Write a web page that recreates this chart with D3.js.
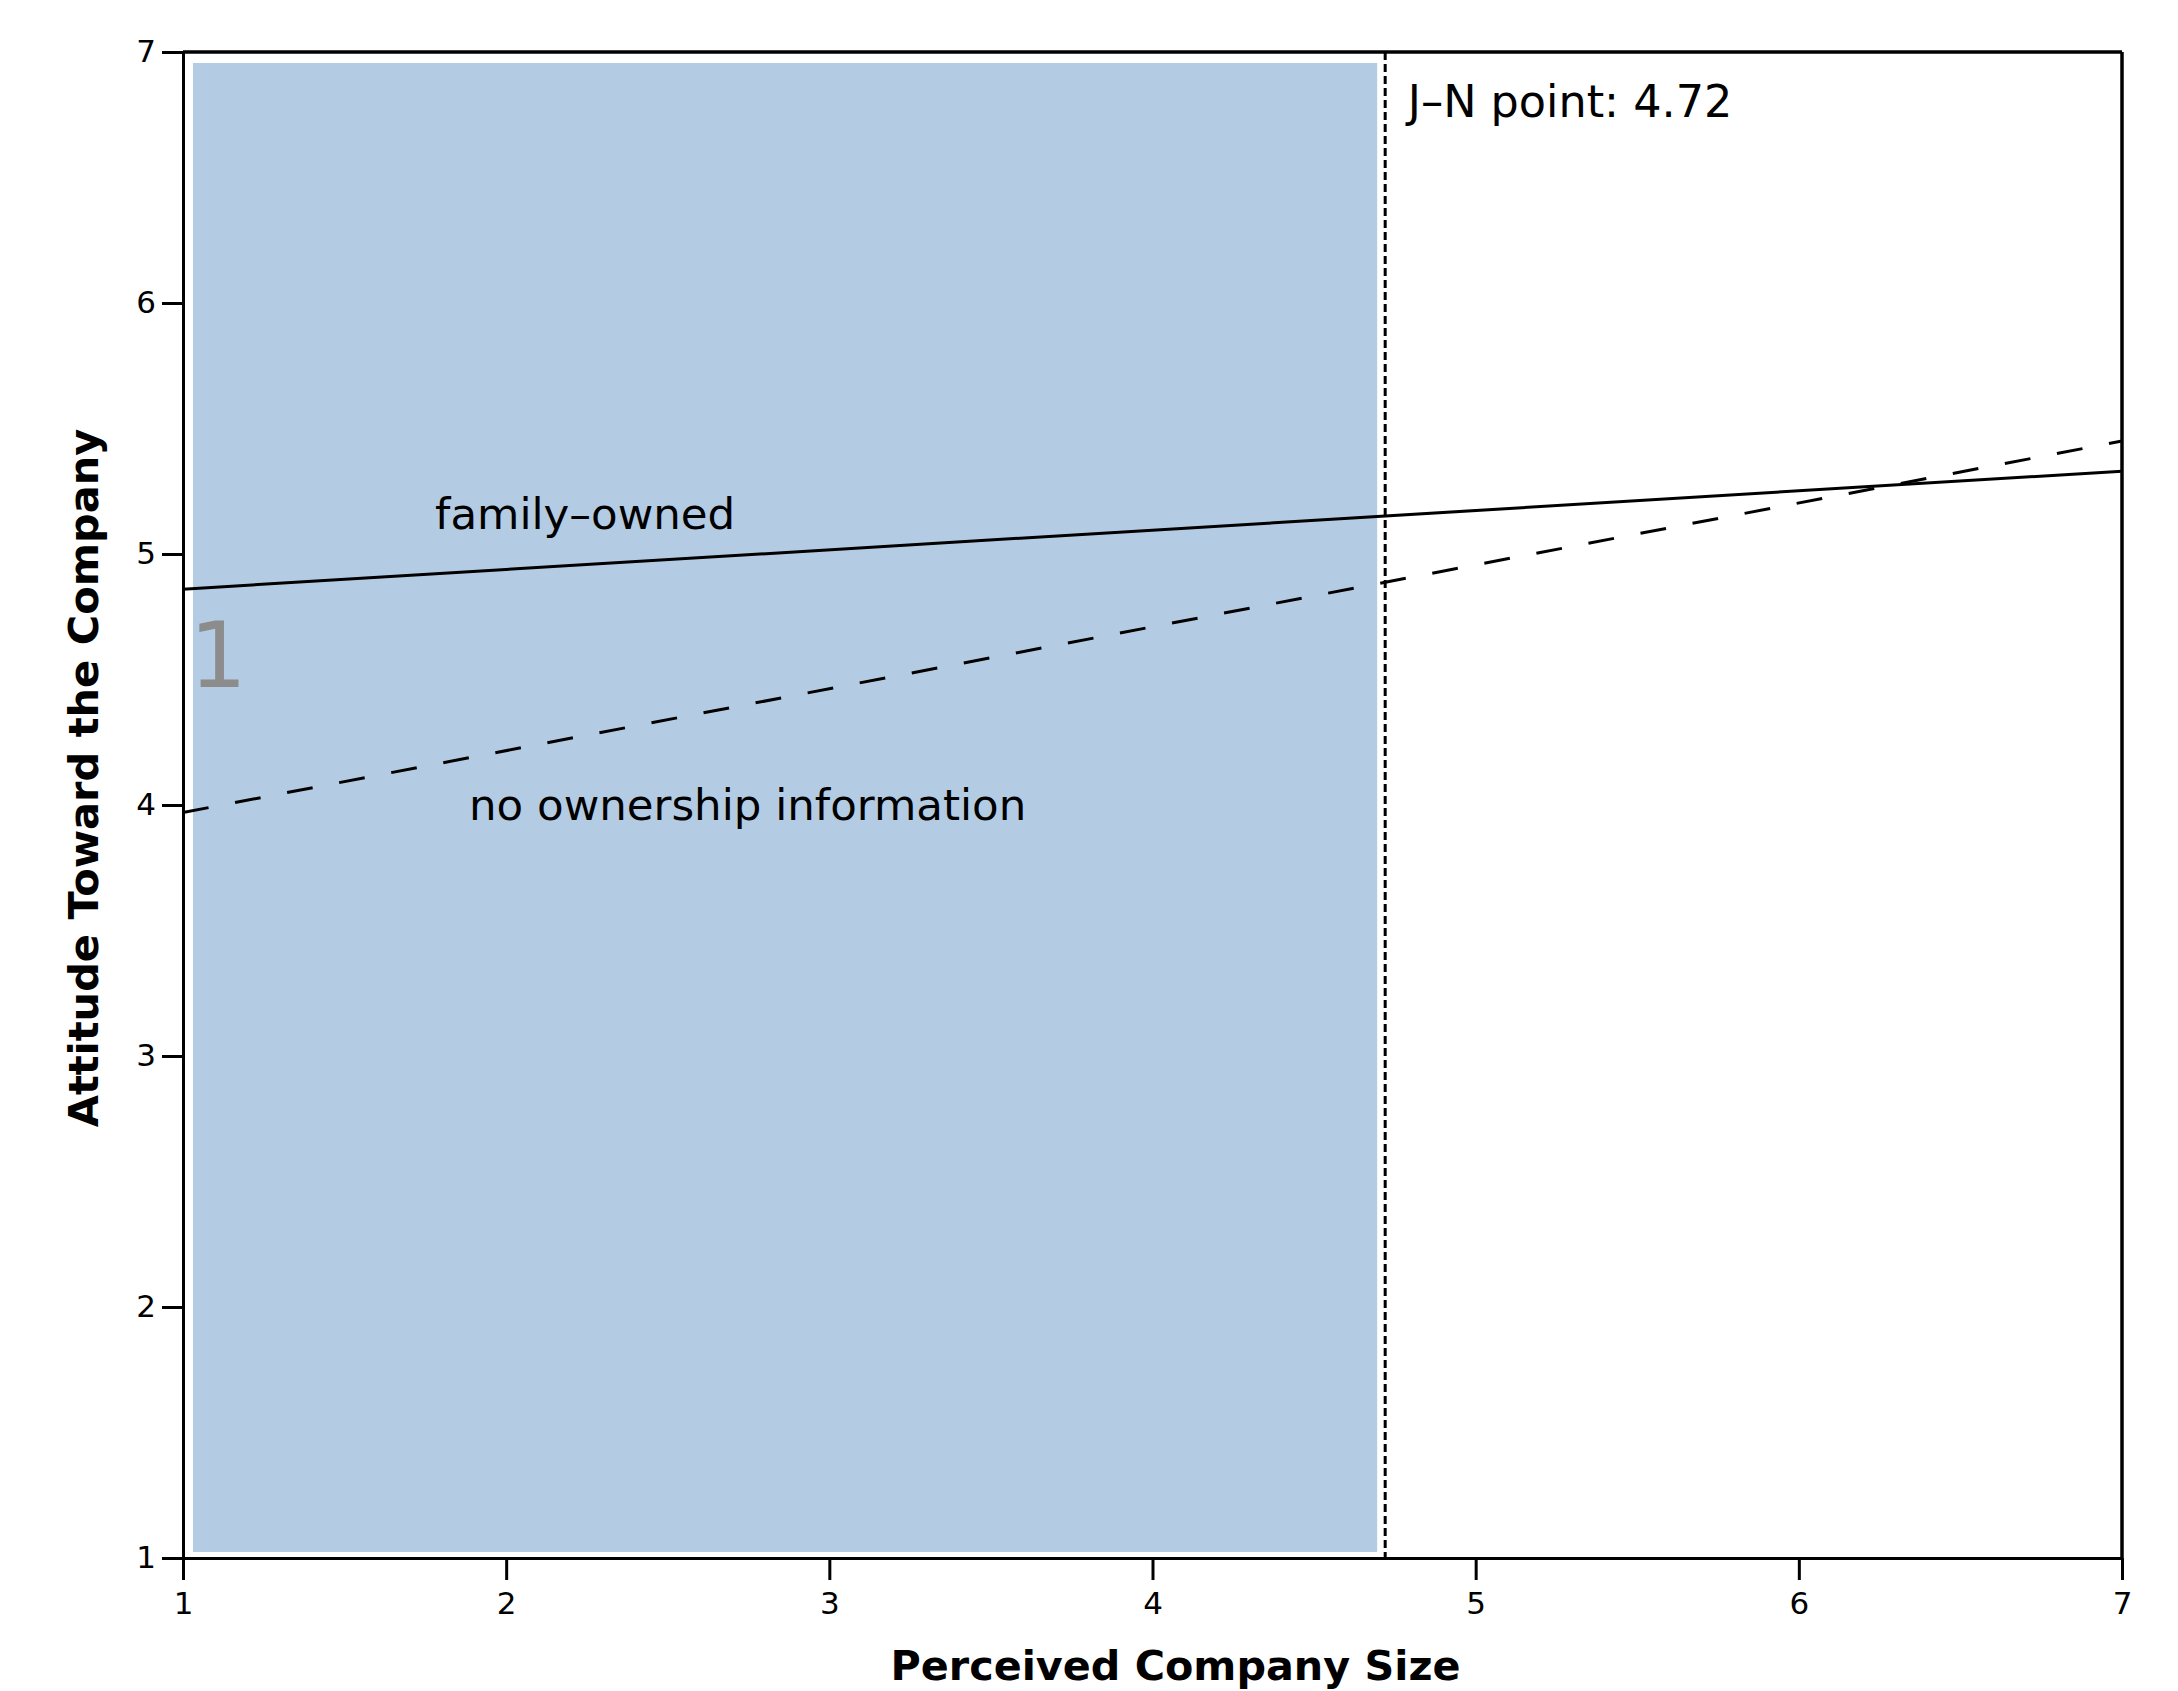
<!DOCTYPE html>
<html>
<head>
<meta charset="utf-8">
<script src="https://cdn.jsdelivr.net/npm/d3@7"></script>
<style>
  body { margin: 0; background: #fff; }
  svg { display: block; font-family: "DejaVu Sans", sans-serif; }
  .axis path, .axis line { stroke: #000; stroke-width: 3; }
  .axis text { font-size: 31px; fill: #000; font-family: "DejaVu Sans", sans-serif; }
</style>
</head>
<body>
<div class="chart"></div>
<script>
// chart values
var sizeRange = [1, 7];              // x at the ends of both lines
var familyOwned = [4.86, 5.33];      // solid line
var noOwnership = [3.97, 5.45];      // dashed line
var xTicks = [1, 2, 3, 4, 5, 6, 7];
var yTicks = [1, 2, 3, 4, 5, 6, 7];
var jnPoint = 4.72;
var regionLabel = "1";

var svgWidth = 2178;
var svgHeight = 1691;

var margin = { top: 52, right: 56, bottom: 133, left: 183 };
var width = svgWidth - margin.left - margin.right;
var height = svgHeight - margin.top - margin.bottom;

var svg = d3.select(".chart")
  .append("svg")
  .attr("width", svgWidth)
  .attr("height", svgHeight);

var chartGroup = svg.append("g")
  .attr("transform", `translate(${margin.left}, ${margin.top})`);

var xLinearScale = d3.scaleLinear().domain([1, 7]).range([0, width]);
var yLinearScale = d3.scaleLinear().domain([1, 7]).range([height, 0]);

// shaded region of significance (left of the J-N point)
chartGroup.append("rect")
  .attr("x", xLinearScale(1) + 10)
  .attr("y", yLinearScale(7) + 11)
  .attr("width", xLinearScale(jnPoint) - xLinearScale(1) - 18)
  .attr("height", yLinearScale(1) - yLinearScale(7) - 17)
  .attr("fill", "#b3cce4");

// frame: top and right
chartGroup.append("line")
  .attr("x1", 0).attr("x2", width).attr("y1", 0).attr("y2", 0)
  .attr("stroke", "#000").attr("stroke-width", 3.5);
chartGroup.append("line")
  .attr("x1", width).attr("x2", width).attr("y1", 0).attr("y2", height)
  .attr("stroke", "#000").attr("stroke-width", 3.5);

// axes
var bottomAxis = d3.axisBottom(xLinearScale)
  .tickValues(xTicks).tickFormat(d3.format("d"))
  .tickSize(22).tickSizeOuter(0).tickPadding(12);
var leftAxis = d3.axisLeft(yLinearScale)
  .tickValues(yTicks).tickFormat(d3.format("d"))
  .tickSize(21).tickSizeOuter(0).tickPadding(6);

chartGroup.append("g")
  .attr("class", "axis")
  .attr("transform", `translate(0, ${height})`)
  .call(bottomAxis);

chartGroup.append("g")
  .attr("class", "axis")
  .call(leftAxis);

chartGroup.selectAll(".axis path").attr("stroke-width", 3.5);

// J-N vertical line
chartGroup.append("line")
  .attr("x1", xLinearScale(jnPoint)).attr("x2", xLinearScale(jnPoint))
  .attr("y1", yLinearScale(7)).attr("y2", yLinearScale(1))
  .attr("stroke", "#000")
  .attr("stroke-width", 3)
  .attr("stroke-dasharray", "8,4");

// regression lines
var line = d3.line()
  .x(d => xLinearScale(d[0]))
  .y(d => yLinearScale(d[1]));

chartGroup.append("path")
  .datum(d3.zip(sizeRange, familyOwned))
  .attr("d", line)
  .attr("fill", "none")
  .attr("stroke", "#000")
  .attr("stroke-width", 3);

chartGroup.append("path")
  .datum(d3.zip(sizeRange, noOwnership))
  .attr("d", line)
  .attr("fill", "none")
  .attr("stroke", "#000")
  .attr("stroke-width", 3)
  .attr("stroke-dasharray", "26,27");

// annotations
chartGroup.append("text")
  .attr("x", xLinearScale(4.79))
  .attr("y", yLinearScale(6.74))
  .attr("font-size", "44.5px")
  .text("J\u2013N point: " + jnPoint);

chartGroup.append("text")
  .attr("x", xLinearScale(1.78))
  .attr("y", yLinearScale(5.1))
  .attr("font-size", "43.5px")
  .text("family\u2013owned");

chartGroup.append("text")
  .attr("x", xLinearScale(1.885))
  .attr("y", yLinearScale(3.94))
  .attr("font-size", "43.5px")
  .text("no ownership information");

chartGroup.append("text")
  .attr("x", xLinearScale(1.02))
  .attr("y", yLinearScale(4.47))
  .attr("font-size", "90px")
  .attr("fill", "#8c8c8c")
  .text(regionLabel);

// axis titles
chartGroup.append("text")
  .attr("transform", "rotate(-90)")
  .attr("x", 0 - (height / 2) + 27)
  .attr("y", 83 - margin.left)
  .attr("dy", "0.35em")
  .attr("text-anchor", "middle")
  .attr("font-size", "41.5px")
  .attr("font-weight", "bold")
  .text("Attitude Toward the Company");

chartGroup.append("text")
  .attr("x", width / 2 + 23)
  .attr("y", svgHeight - margin.top - 11)
  .attr("text-anchor", "middle")
  .attr("font-size", "41.3px")
  .attr("font-weight", "bold")
  .text("Perceived Company Size");
</script>
</body>
</html>
